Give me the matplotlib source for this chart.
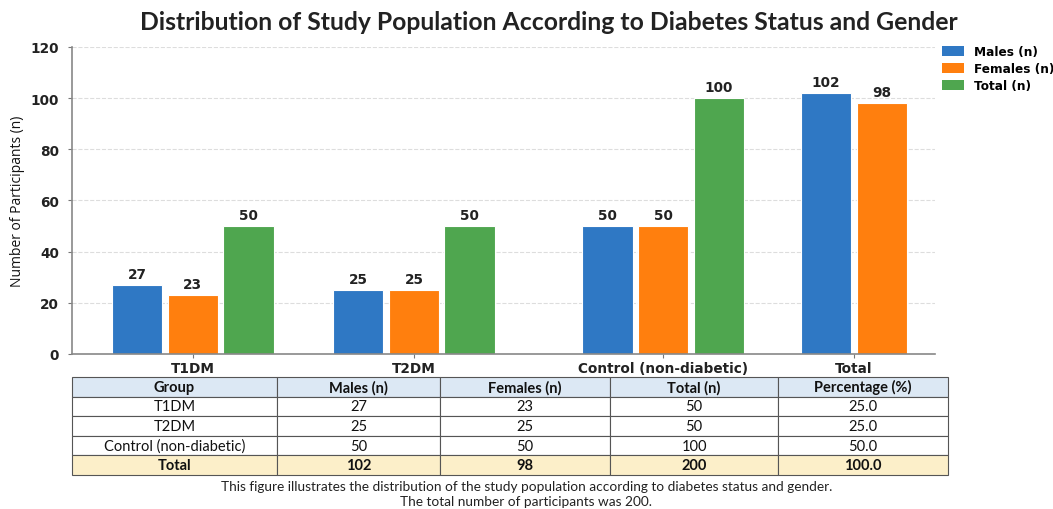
import numpy as np
import matplotlib.pyplot as plt

groups = ['T1DM', 'T2DM', 'Control (non-diabetic)', 'Total']
males = [27, 25, 50, 102]
females = [23, 25, 50, 98]
totals = [50, 50, 100, None]
percent = ['25.0', '25.0', '50.0', '100.0']
grand_total = 200

blue = '#2f78c4'
orange = '#ff7f0e'
green = '#4fa64f'

fig = plt.figure(figsize=(10.53, 5.1), dpi=100)
ax = fig.add_axes([0.068, 0.304, 0.82, 0.602])

# group centres (uneven, as in the source image)
pos = np.array([0.0, 1.0, 2.127, 2.99])
w = 0.228
step = 0.252

bar_kw = dict(width=w, edgecolor='white', linewidth=0.8)
for i in range(len(groups)):
    if totals[i] is None:
        xs = [pos[i] - step / 2, pos[i] + step / 2]
        vals = [males[i], females[i]]
        cols = [blue, orange]
    else:
        xs = [pos[i] - step, pos[i], pos[i] + step]
        vals = [males[i], females[i], totals[i]]
        cols = [blue, orange, green]
    bars = ax.bar(xs, vals, color=cols, **bar_kw)
    for b, v in zip(bars, vals):
        ax.text(b.get_x() + b.get_width() / 2, v + 1.5, str(v), ha='center', va='bottom',
                fontsize=9.8, fontweight='bold', color='#222222')

# legend handles
ax.bar([np.nan], [np.nan], color=blue, label='Males (n)')
ax.bar([np.nan], [np.nan], color=orange, label='Females (n)')
ax.bar([np.nan], [np.nan], color=green, label='Total (n)')
leg = ax.legend(loc='upper left', bbox_to_anchor=(1.0, 1.03), frameon=False,
                prop={'weight': 'bold', 'size': 8.7}, handlelength=1.8, handleheight=0.9,
                labelspacing=0.35, borderaxespad=0.2)

ax.set_xlim(-0.548, 3.357)
ax.set_ylim(0, 120)
ax.set_yticks(range(0, 121, 20))
ax.set_xticks(pos)
ax.set_xticklabels(groups)
for lab in ax.get_xticklabels() + ax.get_yticklabels():
    lab.set_fontweight('bold')
    lab.set_fontsize(9.8)
    lab.set_color('#222222')
ax.tick_params(axis='x', length=3, pad=2, color='#777777')
ax.tick_params(axis='y', length=3, pad=6, color='#777777')
ax.grid(axis='y', linestyle='--', color='#dddddd', linewidth=0.8)
ax.set_axisbelow(True)
for s in ['top', 'right']:
    ax.spines[s].set_visible(False)
for s in ['left', 'bottom']:
    ax.spines[s].set_color('#888888')
    ax.spines[s].set_linewidth(1.2)
ax.set_ylabel('Number of Participants (n)', family='Open Sans', fontsize=10, color='#111111')

fig.text(0.521, 0.956, 'Distribution of Study Population According to Diabetes Status and Gender',
         ha='center', va='center', family='Lato', fontweight='bold', fontsize=17.8, color='#222222')

# table
tax = fig.add_axes([0.0684, 0.0667, 0.832, 0.192])
tax.axis('off')
header = ['Group', 'Males (n)', 'Females (n)', 'Total (n)', 'Percentage (%)']
rows = []
for i in range(len(groups)):
    t = totals[i] if totals[i] is not None else grand_total
    rows.append([groups[i], str(males[i]), str(females[i]), str(t), percent[i]])
colw = np.array([205, 163, 170, 168, 170]) / 876
tbl = tax.table(cellText=rows, colLabels=header, colWidths=colw, cellLoc='center',
                bbox=[0, 0, 1, 1])
tbl.auto_set_font_size(False)
for (r, c), cell in tbl.get_celld().items():
    cell.set_edgecolor('#555555')
    cell.set_linewidth(0.8)
    txt = cell.get_text()
    txt.set_fontsize(10.5)
    txt.set_family('Lato')
    txt.set_color('#111111')
    if r == 0:
        cell.set_facecolor('#dce8f4')
        txt.set_fontweight('bold')
    elif r == len(rows):
        cell.set_facecolor('#fcefc9')
        txt.set_fontweight('bold')
    else:
        cell.set_facecolor('white')

fig.text(0.5, 0.046, 'This figure illustrates the distribution of the study population according to diabetes status and gender.',
         ha='center', va='center', family='Lato', fontsize=9.8, color='#222222')
fig.text(0.5, 0.016, 'The total number of participants was 200.',
         ha='center', va='center', family='Lato', fontsize=9.8, color='#222222')

fig.savefig('out.png', dpi=100)
